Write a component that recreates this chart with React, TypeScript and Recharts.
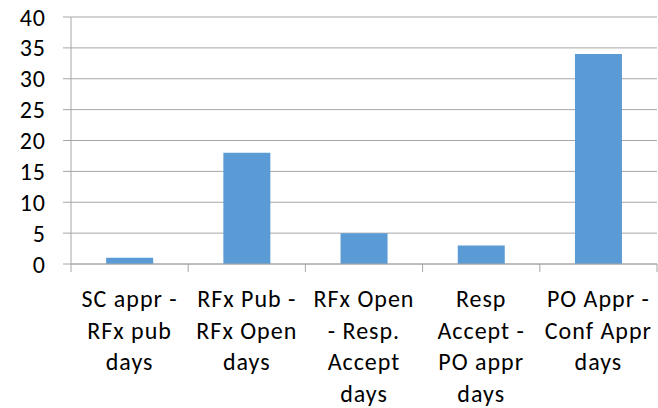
import { Bar, BarChart, CartesianGrid, XAxis, YAxis } from "recharts";

const categories = [
  ["SC appr -", "RFx pub", "days"],
  ["RFx Pub -", "RFx Open", "days"],
  ["RFx Open", "- Resp.", "Accept", "days"],
  ["Resp", "Accept -", "PO appr", "days"],
  ["PO Appr -", "Conf Appr", "days"],
];
const values = [1, 18, 5, 3, 34];
const yTicks = [0, 5, 10, 15, 20, 25, 30, 35, 40];

const data = categories.map((lines, i) => ({ name: lines.join("\n"), value: values[i] }));

const FONT = "Carlito, 'Open Sans', sans-serif";
const AXIS = "#A6A6A6";

function CategoryTick(props: any) {
  const { x, y, payload, index, width } = props;
  const band = width / data.length;
  const lines: string[] = String(payload.value).split("\n");
  const left = x - band / 2;
  return (
    <g>
      <line x1={left} y1={y - 8} x2={left} y2={y} stroke={AXIS} strokeWidth={1} />
      {index === data.length - 1 && (
        <line x1={left + band} y1={y - 8} x2={left + band} y2={y} stroke={AXIS} strokeWidth={1} />
      )}
      <text x={x} y={y} textAnchor="middle" fill="#000" fontSize={24} fontFamily={FONT} letterSpacing={1}>
        {lines.map((l, i) => (
          <tspan key={i} x={x} y={y + 35 + i * 31.5}>
            {l}
          </tspan>
        ))}
      </text>
    </g>
  );
}

export default function App() {
  return (
    <div style={{ position: "absolute", left: 0, top: 0, background: "#fff" }}>
      <BarChart
        width={658}
        height={408}
        data={data}
        margin={{ top: 17, right: 1, bottom: 0, left: 0 }}
        barCategoryGap="30%"
      >
        <CartesianGrid vertical={false} stroke={AXIS} strokeWidth={1} />
        <XAxis
          dataKey="name"
          height={144}
          interval={0}
          axisLine={{ stroke: AXIS }}
          tickLine={false}
          tick={<CategoryTick />}
        />
        <YAxis
          width={71}
          domain={[0, 40]}
          ticks={yTicks}
          interval={0}
          tickSize={8}
          tickMargin={17}
          axisLine={{ stroke: AXIS }}
          tickLine={{ stroke: AXIS }}
          tick={{ fill: "#000", fontSize: 24, fontFamily: FONT, letterSpacing: 1 }}
        />
        <Bar dataKey="value" fill="#5B9BD5" isAnimationActive={false} />
      </BarChart>
    </div>
  );
}
